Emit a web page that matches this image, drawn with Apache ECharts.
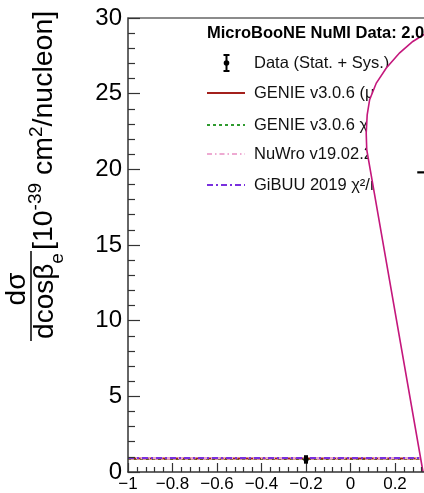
<!DOCTYPE html>
<html>
<head>
<meta charset="utf-8">
<script src="https://cdn.jsdelivr.net/npm/echarts@6/dist/echarts.min.js"></script>
<style>
  html, body { margin: 0; padding: 0; background: #ffffff; }
  #chart { width: 424px; height: 493px; }
</style>
</head>
<body>
<div id="chart"></div>
<script>
// Differential cross section in cos(beta_e), units of 1e-39 cm^2/nucleon

// bin positions for the model predictions
const cosBeta = [-1.0, -0.9, -0.8, -0.7, -0.6, -0.5, -0.4, -0.3, -0.2, -0.1, 0.0, 0.1, 0.2, 0.3, 0.4];
const genieTune = [0.90, 0.90, 0.90, 0.90, 0.90, 0.90, 0.90, 0.90, 0.90, 0.90, 0.90, 0.90, 0.90, 0.90, 0.90];
const genieDefault = [0.86, 0.86, 0.86, 0.86, 0.86, 0.86, 0.86, 0.86, 0.86, 0.86, 0.86, 0.86, 0.86, 0.86, 0.86];
const nuwroFlat = [0.91, 0.91, 0.91, 0.91, 0.91, 0.91, 0.91, 0.91, 0.91, 0.91, 0.91, 0.91, 0.91, 0.91, 0.91];
const gibuu = [0.93, 0.93, 0.93, 0.93, 0.93, 0.93, 0.93, 0.93, 0.93, 0.93, 0.93, 0.93, 0.93, 0.93, 0.93];

// steep forward prediction (smoothed curve), drawn point by point
const peakX = [0.326, 0.073, 0.0706, 0.075, 0.086, 0.116, 0.161, 0.221, 0.280, 0.329, 0.365];
const peakY = [0.0, 21.3, 22.4, 23.6, 24.6, 25.7, 26.7, 27.7, 28.45, 28.9, 29.2];

// measured points with errors
const dataX = [-0.2, 0.35];
const dataY = [0.83, 19.8];
const dataErrY = [0.28, 1.5];
const dataErrX = [0, 0.05];

// axis ranges
const xRange = [-1, 1];
const yRange = [0, 30];

const legendTitle = 'MicroBooNE NuMI Data: 2.0×10²⁰ POT';
const legendLabels = [
  'Data (Stat. + Sys.)',
  'GENIE v3.0.6 (μBooNE Tune) χ²/ndf',
  'GENIE v3.0.6 χ²/ndf',
  'NuWro v19.02.2 χ²/ndf',
  'GiBUU 2019 χ²/ndf'
];

const FONT = '"Liberation Sans", Arial, Helvetica, sans-serif';
const C_RED = '#a3201c';
const C_GREEN = '#2f9b2f';
const C_PINK = '#eeaad2';
const C_PURPLE = '#7a30de';
const C_MAGENTA = '#c4177c';
const C_AXIS = '#333333';

const chart = echarts.init(document.getElementById('chart'), null, { renderer: 'canvas' });

// text measuring for the rotated axis title
const measureCtx = document.createElement('canvas').getContext('2d');
function textWidth(str, size) {
  measureCtx.font = size + 'px ' + FONT;
  return measureCtx.measureText(str).width;
}

// lays out runs of text reading upwards along a vertical baseline
function verticalRuns(runs, baselineX, anchorY, anchor) {
  const total = runs.reduce((s, r) => s + textWidth(r.t, r.fs), 0);
  let y = anchor === 'center' ? anchorY + total / 2 : anchorY;
  const els = [];
  runs.forEach(r => {
    els.push({
      type: 'text',
      x: baselineX + (r.s || 0) - 0.35 * r.fs,
      y: y,
      rotation: Math.PI / 2,
      z: 1,
      style: {
        text: r.t,
        font: r.fs + 'px ' + FONT,
        fontSize: r.fs,
        fontFamily: FONT,
        fill: '#000',
        textAlign: 'left',
        align: 'left',
        textVerticalAlign: 'middle',
        verticalAlign: 'middle'
      }
    });
    y -= textWidth(r.t, r.fs);
  });
  return els;
}

const titleEls = []
  .concat(verticalRuns([
    { t: '[10', fs: 28.5 },
    { t: '-39', fs: 19, s: -12 },
    { t: ' cm', fs: 28.5 },
    { t: '2', fs: 19, s: -11 },
    { t: '/nucleon]', fs: 28.5 }
  ], 54, 250, 'bottom'))
  .concat(verticalRuns([{ t: 'dσ', fs: 28 }], 27, 289, 'center'))
  .concat(verticalRuns([
    { t: 'dcosβ', fs: 28 },
    { t: 'e', fs: 19, s: 9 }
  ], 55, 296, 'center'))
  .concat([{
    type: 'line', z: 1,
    shape: { x1: 31, y1: 251, x2: 31, y2: 341 },
    style: { stroke: '#000', lineWidth: 1.5 }
  }]);

// legend block
const legX0 = 207, legX1 = 245, legTextX = 254;
const legRows = [63, 93, 125, 154, 185];
const legendEls = [
  {
    type: 'text', x: legX0, y: 33, z: 10,
    style: { text: legendTitle, font: 'bold 16.5px ' + FONT, fill: '#000',
      textAlign: 'left', align: 'left', textVerticalAlign: 'middle', verticalAlign: 'middle' }
  },
  // data marker
  { type: 'line', z: 1, shape: { x1: 226.5, y1: 55, x2: 226.5, y2: 71 }, style: { stroke: '#000', lineWidth: 2 } },
  { type: 'line', z: 1, shape: { x1: 223.5, y1: 55, x2: 229.5, y2: 55 }, style: { stroke: '#000', lineWidth: 2 } },
  { type: 'line', z: 1, shape: { x1: 223.5, y1: 71, x2: 229.5, y2: 71 }, style: { stroke: '#000', lineWidth: 2 } },
  { type: 'circle', z: 1, shape: { cx: 226.5, cy: 63, r: 2.8 }, style: { fill: '#000' } },
  // model lines
  { type: 'line', z: 1, shape: { x1: legX0, y1: legRows[1], x2: legX1, y2: legRows[1] }, style: { stroke: C_RED, lineWidth: 2 } },
  { type: 'line', z: 1, shape: { x1: legX0, y1: legRows[2], x2: legX1, y2: legRows[2] }, style: { stroke: C_GREEN, lineWidth: 2, lineDash: [3, 3] } },
  { type: 'line', z: 1, shape: { x1: legX0, y1: legRows[3], x2: legX1, y2: legRows[3] }, style: { stroke: C_PINK, lineWidth: 2, lineDash: [5, 3, 1.5, 3] } },
  { type: 'line', z: 1, shape: { x1: legX0, y1: legRows[4], x2: legX1, y2: legRows[4] }, style: { stroke: C_PURPLE, lineWidth: 2, lineDash: [6, 3, 2, 3] } }
];
legendLabels.forEach((lab, i) => {
  legendEls.push({
    type: 'text', x: legTextX, y: legRows[i], z: 1,
    style: { text: lab, font: '16.5px ' + FONT, fill: '#111',
      textAlign: 'left', align: 'left', textVerticalAlign: 'middle', verticalAlign: 'middle' }
  });
});

function pairs(xs, ys) { return xs.map((x, i) => [x, ys[i]]); }

function flatLine(name, values, color, type, z) {
  return {
    name: name, type: 'line', data: pairs(cosBeta, values),
    showSymbol: false, symbol: 'none', z: z, silent: true,
    lineStyle: { color: color, width: 2, type: type }
  };
}

function fmtX(v) {
  if (Math.abs(v) < 1e-9) return '0';
  const a = Math.abs(v);
  const s = Math.abs(a - 1) < 1e-9 ? '1' : a.toFixed(1);
  return (v < 0 ? '−' : '') + s;
}

const option = {
  backgroundColor: '#ffffff',
  animation: false,
  grid: { left: 128, top: 18, width: 445, height: 454, containLabel: false, outerBoundsMode: 'none' },
  xAxis: [{
    type: 'value', min: xRange[0], max: xRange[1], interval: 0.2, z: 8,
    axisLine: { show: true, onZero: false, lineStyle: { color: C_AXIS, width: 1.5 } },
    axisTick: { show: true, inside: true, length: 9, lineStyle: { color: C_AXIS, width: 1.2 } },
    minorTick: { show: true, splitNumber: 5, length: 5, lineStyle: { color: C_AXIS, width: 1.2 } },
    splitLine: { show: false },
    axisLabel: { show: true, fontSize: 17, fontFamily: FONT, color: '#000', margin: 4,
      hideOverlap: false, showMinLabel: true, showMaxLabel: true, formatter: fmtX }
  }, {
    type: 'value', position: 'top', min: xRange[0], max: xRange[1], z: 8,
    axisLine: { show: true, onZero: false, lineStyle: { color: '#666', width: 1.5 } },
    axisTick: { show: false }, axisLabel: { show: false }, splitLine: { show: false }
  }],
  yAxis: {
    type: 'value', min: yRange[0], max: yRange[1], interval: 5, z: 8,
    axisLine: { show: true, onZero: false, lineStyle: { color: C_AXIS, width: 1.5 } },
    axisTick: { show: true, inside: true, length: 12, lineStyle: { color: C_AXIS, width: 1.2 } },
    minorTick: { show: true, splitNumber: 5, length: 7, lineStyle: { color: C_AXIS, width: 1.2 } },
    splitLine: { show: false },
    axisLabel: { show: true, fontSize: 24, fontFamily: FONT, color: '#000', margin: 6,
      showMinLabel: true, showMaxLabel: true }
  },
  graphic: { elements: titleEls.concat(legendEls) },
  series: [
    flatLine('GENIE v3.0.6 χ²', genieDefault, C_GREEN, [3, 3], 3),
    flatLine('GENIE v3.0.6 (μBooNE Tune)', genieTune, C_RED, 'solid', 3),
    flatLine('NuWro v19.02.2', nuwroFlat, C_PINK, [5, 3, 1.5, 3], 3),
    flatLine('GiBUU 2019', gibuu, C_PURPLE, [6, 3, 2, 3], 3),
    {
      // forward peak: white-filled region to the right of the curve, then the curve itself
      name: 'forward peak', type: 'custom', z: 5, silent: true,
      data: [[peakX[0], peakY[0]]],
      renderItem: function (params, api) {
        const pts = peakX.map((x, i) => api.coord([x, peakY[i]]));
        const closing = api.coord([peakX[peakX.length - 1], yRange[0]]);
        return {
          type: 'group',
          children: [
            { type: 'polygon', shape: { points: pts.concat([closing]) }, style: { fill: '#ffffff', stroke: null } },
            { type: 'polyline', shape: { points: pts }, style: { stroke: C_MAGENTA, lineWidth: 1.6, fill: null } }
          ]
        };
      }
    },
    {
      name: 'Data', type: 'custom', z: 10, silent: true,
      data: dataX.map((x, i) => [x, dataY[i], dataErrY[i], dataErrX[i]]),
      renderItem: function (params, api) {
        const x = api.value(0), y = api.value(1), ey = api.value(2), ex = api.value(3);
        const c = api.coord([x, y]);
        const top = api.coord([x, y + ey]);
        const bot = api.coord([x, y - ey]);
        const children = [
          { type: 'rect', shape: { x: c[0] - 2, y: top[1], width: 4, height: bot[1] - top[1] }, style: { fill: '#000' } },
          { type: 'circle', shape: { cx: c[0], cy: c[1], r: 2.6 }, style: { fill: '#000' } }
        ];
        if (ex > 0) {
          const l = api.coord([x - ex, y]);
          const r = api.coord([x + ex, y]);
          children.push({ type: 'line', shape: { x1: l[0], y1: l[1], x2: r[0], y2: r[1] }, style: { stroke: '#000', lineWidth: 2.2 } });
        }
        return { type: 'group', children: children };
      }
    }
  ]
};

chart.setOption(option);
</script>
</body>
</html>
